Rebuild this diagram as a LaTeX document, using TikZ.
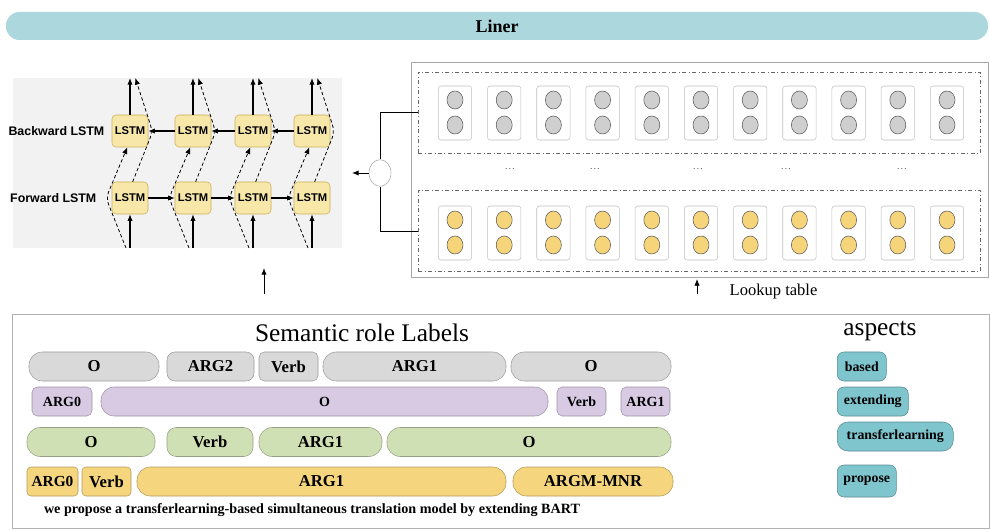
\documentclass[tikz,border=0pt]{standalone}
\usepackage{fontspec}
\setmainfont{Liberation Serif}
\newfontfamily\arialfont{Liberation Sans}
\usetikzlibrary{shapes.geometric,arrows.meta}

\definecolor{linerteal}{HTML}{ACD7DD}
\definecolor{lstmfill}{HTML}{F7E8A9}
\definecolor{lstmline}{HTML}{CBAE57}
\definecolor{panelgray}{HTML}{F2F2F2}
\definecolor{srlgray}{HTML}{D9D9D9}
\definecolor{srlpurple}{HTML}{D8CAE2}
\definecolor{srlgreen}{HTML}{CFE0B4}
\definecolor{srlyellow}{HTML}{F6D57F}
\definecolor{aspteal}{HTML}{7FC5CE}
\definecolor{dotgray}{HTML}{CFCFCF}
\definecolor{dotyellow}{HTML}{F6D47A}

\tikzset{
  arr/.style={-{Latex[length=5pt,width=4pt]}, line width=0.8pt},
  skiparr/.style={arr, line width=0.6pt, dash pattern=on 2.5pt off 1.8pt, rounded corners=5pt},
  lstm/.style={draw=lstmline, fill=lstmfill, rounded corners=3pt, minimum width=27pt,
    minimum height=24pt, inner sep=0pt, font=\arialfont\bfseries\fontsize{8.4}{9}\selectfont},
  seg/.style={draw=#1!72!black, fill=#1, inner sep=0pt, minimum height=21.75pt},
  cell/.style={draw=gray!50, rounded corners=2pt, minimum width=25pt, minimum height=40.5pt},
  dot/.style={ellipse, draw=gray!70!black, fill=#1, minimum width=12pt, minimum height=13.5pt, inner sep=0pt},
  tablebox/.style={draw=gray!80!black, dash dot, minimum width=421.5pt, minimum height=61pt},
  aspect/.style={draw=aspteal!70!black, fill=aspteal, anchor=west, minimum height=21.75pt,
    inner sep=0pt, font=\bfseries\fontsize{10.4}{12}\selectfont}
}

\begin{document}
\begin{tikzpicture}[x=0.75pt, y=-0.75pt]
\useasboundingbox (0,0) rectangle (990,531);

\node[fill=linerteal, rounded corners=10pt, minimum width=736.5pt, minimum height=21pt,
  font=\bfseries\fontsize{13.5}{15}\selectfont] (liner) at (497,26) {Liner};

\fill[panelgray] (13,78) rectangle (342,248);
\node[anchor=east, font=\arialfont\bfseries\fontsize{9.3}{10}\selectfont] (bwlabel) at (109,131) {Backward LSTM};
\node[anchor=east, font=\arialfont\bfseries\fontsize{9.3}{10}\selectfont] (fwlabel) at (101,198) {Forward LSTM};
\foreach \i/\x in {1/130,2/193,3/253,4/312} {
  \node[lstm] (b\i) at (\x,131) {LSTM};
  \node[lstm] (f\i) at (\x,198) {LSTM};
  \coordinate (top\i) at (\x,78);
  \coordinate (in\i) at (\x,248);
  \draw[arr] (b\i) -- (top\i);
  \draw[arr] (in\i) -- (f\i);
  \draw[skiparr] ([xshift=-3pt]in\i) -- ++(-20,-50) -- ([xshift=-2pt]b\i.south);
  \draw[skiparr] ([xshift=2pt]f\i.north) -- ++(20,-50) -- ([xshift=4pt]top\i);
}
\foreach \i/\j in {1/2,2/3,3/4} {
  \draw[arr] (f\i) -- (f\j);
  \draw[arr] (b\j) -- (b\i);
}
\coordinate (lstmin) at (264,294);
\coordinate (lstmout) at (264,268);
\draw[arr, line width=0.7pt] (lstmin) -- (lstmout);

\node[draw=gray!70, minimum width=432.75pt, minimum height=161.25pt] (lookup) at (699.5,169.5) {};
\node[tablebox] (ub) at (699,112.5) {};
\node[tablebox] (lb) at (699,231) {};
\foreach \k in {0,...,10} {
  \node[cell] (uc\k) at ({455+49.2*\k},113) {};
  \node[dot=dotgray] at ({455+49.2*\k},100) {};
  \node[dot=dotgray] at ({455+49.2*\k},125) {};
  \node[cell] (lc\k) at ({455+49.2*\k},233) {};
  \node[dot=dotyellow] at ({455+49.2*\k},220) {};
  \node[dot=dotyellow] at ({455+49.2*\k},245) {};
}
\foreach \x in {510,595,698,786,902}
  \node[font=\fontsize{8}{9}\selectfont, text=gray!80!black] at (\x,169) {\dots};
\node[ellipse, draw=gray!70, fill=white, minimum width=16.5pt, minimum height=20pt] (circ) at (380,173) {};
\coordinate (lstmend) at (352,173);
\draw[line width=0.7pt] (ub.west) -| (circ.north);
\draw[line width=0.7pt] (lb.west) -| (circ.south);
\draw[arr, line width=0.7pt] (circ) -- (lstmend);
\coordinate (lookin) at (697,294);
\coordinate (lookout) at (697,279);
\draw[arr, line width=0.6pt] (lookin) -- (lookout);
\node[anchor=west, font=\fontsize{12.4}{14}\selectfont] (looklabel) at (725,292) {Lookup table};

\draw[gray!60] (12,314) rectangle (989,528);
\node[font=\fontsize{19}{21}\selectfont] (srltitle) at (362,333) {Semantic role Labels};
\node[font=\fontsize{19}{21}\selectfont] (asptitle) at (880,331) {aspects};

\foreach \nm/\xa/\xb/\rc/\fs/\txt in {r1a/29/159/10/12.5/O, r1b/167/254/6/12.5/ARG2,
    r1c/259/318/4/12.5/Verb, r1d/323/506/10/12.5/ARG1, r1e/511/671/10/12.5/O}
  \node[seg=srlgray, rounded corners=\rc pt, minimum width={(\xb-\xa)*0.75pt},
    font=\bfseries\fontsize{\fs}{14}\selectfont] (\nm) at ({(\xa+\xb)/2},366.5) {\txt};
\foreach \nm/\xa/\xb/\rc/\fs/\txt in {r2a/32/92/4/10.5/ARG0, r2b/101/548/10/10.5/O,
    r2c/557/606/4/10.5/Verb, r2d/621/670/4/10.5/ARG1}
  \node[seg=srlpurple, rounded corners=\rc pt, minimum width={(\xb-\xa)*0.75pt},
    font=\bfseries\fontsize{\fs}{14}\selectfont] (\nm) at ({(\xa+\xb)/2},401.5) {\txt};
\foreach \nm/\xa/\xb/\rc/\fs/\txt in {r3a/27/155/10/12.5/O, r3b/167/253/7/12.5/Verb,
    r3c/259/382/10/12.5/ARG1, r3d/387/671/10/12.5/O}
  \node[seg=srlgreen, rounded corners=\rc pt, minimum width={(\xb-\xa)*0.75pt},
    font=\bfseries\fontsize{\fs}{14}\selectfont] (\nm) at ({(\xa+\xb)/2},442) {\txt};
\foreach \nm/\xa/\xb/\rc/\fs/\txt in {r4a/27/78/3/11.5/ARG0, r4b/82/131/3/12.5/Verb,
    r4c/137/506/10/12.5/ARG1, r4d/513/673/10/12.5/ARGM-MNR}
  \node[seg=srlyellow, rounded corners=\rc pt, minimum width={(\xb-\xa)*0.75pt},
    font=\bfseries\fontsize{\fs}{14}\selectfont] (\nm) at ({(\xa+\xb)/2},481.5) {\txt};
\node[font=\bfseries\fontsize{10.6}{12}\selectfont] (sentence) at (312,510)
  {we propose a transferlearning-based simultaneous translation model by extending BART};

\node[aspect, rounded corners=5pt, minimum width=36.75pt] (based) at (837,366.5) {based};
\node[aspect, rounded corners=5pt, minimum width=53.25pt] (extending) at (837,401.5) {extending};
\node[aspect, rounded corners=8pt, minimum width=87pt] (transfer) at (837,436.5) {transferlearning};
\node[aspect, rounded corners=5pt, minimum width=44.25pt, minimum height=24pt] (propose) at (837,481) {propose};
\end{tikzpicture}
\end{document}
